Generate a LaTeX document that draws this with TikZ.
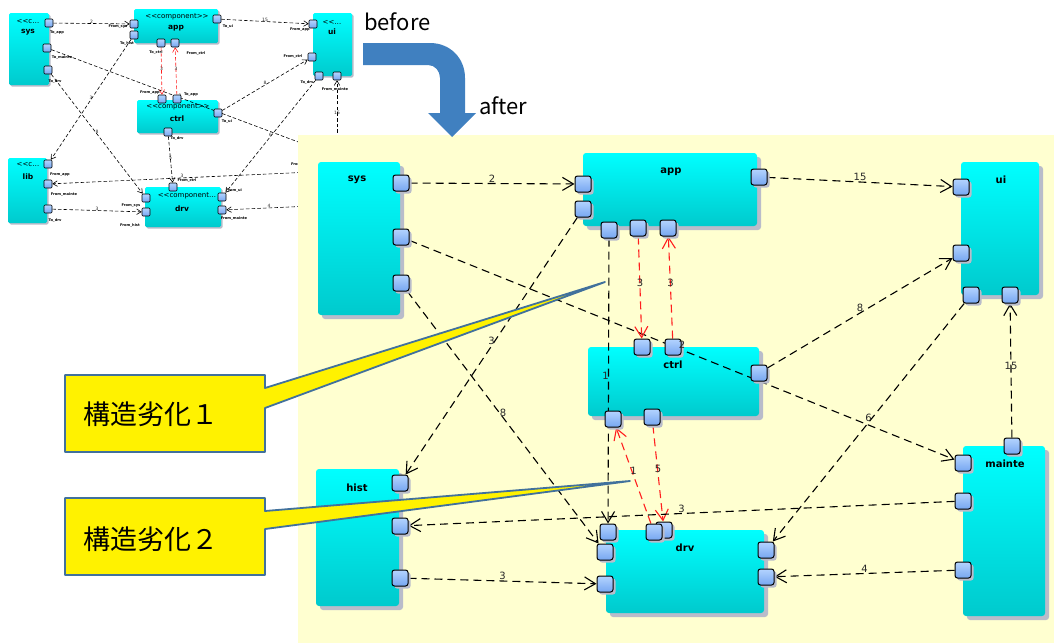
\documentclass[tikz,border=0pt]{standalone}
\usepackage{fontspec}
\setmainfont{DejaVu Sans}
\newfontfamily\jpfont{Noto Sans CJK JP}
\usetikzlibrary{arrows.meta,shadows}
\definecolor{panelbg}{RGB}{255,255,208}
\definecolor{cyanT}{RGB}{0,255,255}
\definecolor{cyanM}{RGB}{0,242,243}
\definecolor{cyanB}{RGB}{0,202,205}
\definecolor{portT}{RGB}{180,212,255}
\definecolor{portB}{RGB}{118,166,240}
\definecolor{shadowc}{RGB}{185,188,202}
\definecolor{calloutline}{RGB}{65,113,156}
\definecolor{bigarrow}{RGB}{64,128,192}
\definecolor{lblc}{RGB}{40,40,40}
\definecolor{redline}{RGB}{255,30,30}
\pgfdeclarelayer{L0}
\pgfdeclarelayer{L1}
\pgfdeclarelayer{L2}
\pgfdeclarelayer{L3}
\pgfdeclarelayer{L4}
\pgfdeclarelayer{L5}
\pgfsetlayers{L0,L1,L2,L3,L4,L5,main}
\tikzset{
  comp/.style={rounded corners=3, top color=cyanT, middle color=cyanM, bottom color=cyanB, inner sep=0,
    drop shadow={shadow xshift=4pt, shadow yshift=-4pt, fill=shadowc, opacity=1}},
  port/.style={draw=black, line width=1pt, rounded corners=2.5, minimum size=16, inner sep=0,
    top color=portT, bottom color=portB,
    drop shadow={shadow xshift=2.5pt, shadow yshift=-2.5pt, fill=shadowc, opacity=1}},
  cname/.style={font=\bfseries\fontsize{10}{11}\selectfont},
  elbl/.style={font=\fontsize{10}{11}\selectfont, text=lblc, inner sep=1pt, midway, yshift=5pt},
  dep/.style={draw=black, line width=1.1pt, dash pattern=on 8pt off 5pt, -{Straight Barb[length=11pt,width=13pt]}},
  rdep/.style={dep, draw=redline},
  bcomp/.style={rounded corners=1.5, top color=cyanT, middle color=cyanM, bottom color=cyanB, inner sep=0,
    drop shadow={shadow xshift=1.5pt, shadow yshift=-1.5pt, fill=shadowc, opacity=1}},
  bport/.style={draw=black, line width=0.6pt, rounded corners=1, minimum size=8, inner sep=0,
    top color=portT, bottom color=portB},
  bdep/.style={draw=black, line width=0.6pt, dash pattern=on 3.5pt off 2.2pt, -{Straight Barb[length=4.5pt,width=5.5pt]}},
  bred/.style={bdep, draw=redline},
  blbl/.style={font=\fontsize{4.5}{5}\selectfont, text=lblc, midway, yshift=2pt, inner sep=0.5pt},
  bplbl/.style={font=\bfseries\fontsize{3.6}{4}\selectfont, inner sep=0},
  bhead/.style={font=\fontsize{7}{7}\selectfont},
  bname/.style={font=\bfseries\fontsize{7.5}{8}\selectfont},
  callout/.style={fill=yellow, draw=calloutline, line width=1.8pt, line join=round},
  cjk/.style={font=\jpfont\fontsize{27}{30}\selectfont, inner sep=0},
  bigtxt/.style={font=\jpfont\fontsize{22}{24}\selectfont, inner sep=0},
}
\begin{document}
\begin{tikzpicture}[x=1pt,y=-1pt]
\useasboundingbox (0,0) rectangle (1054,643);
% ---------------- BEFORE diagram ----------------
\begin{pgfonlayer}{L0}
\fill[white] (0,0) rectangle (1054,643);
\node[bcomp, minimum width=40, minimum height=72] (bsys) at (29,49) {};
\node[bcomp, minimum width=84, minimum height=34] (bapp) at (176,26) {};
\node[bcomp, minimum width=39, minimum height=63] (bui) at (332.5,44.5) {};
\node[bcomp, minimum width=81, minimum height=33] (bctrl) at (177.5,116.5) {};
\node[bcomp, minimum width=39, minimum height=65] (blib) at (27.5,190.5) {};
\node[bcomp, minimum width=76, minimum height=40] (bdrv) at (183,207) {};
\node[bhead] (bh1) at (28,22) {<{}<c…};
\node[bname] (bn1) at (28,32) {sys};
\node[bhead] (bh2) at (177,17) {<{}<component>{}>};
\node[bname] (bn2) at (176,28) {app};
\node[bhead] (bh3) at (332,22) {<{}<…};
\node[bname] (bn3) at (332,32) {ui};
\node[bhead] (bh4) at (178,107) {<{}<component>{}>};
\node[bname] (bn4) at (177,119) {ctrl};
\node[bhead] (bh5) at (28,165) {<{}<c…};
\node[bname] (bn5) at (28,177) {lib};
\node[bhead] (bh6) at (187,196) {<{}<component…};
\node[bname] (bn6) at (182,209) {drv};
\end{pgfonlayer}
\begin{pgfonlayer}{L2}
\node[bport] (bs1) at (49,23) {};
\node[bport] (bs2) at (47,48) {};
\node[bport] (bs3) at (48,70) {};
\node[bport] (ba1) at (134,24) {};
\node[bport] (ba2) at (134,35) {};
\node[bport] (ba3) at (161,43) {};
\node[bport] (ba4) at (175,43) {};
\node[bport] (ba5) at (217,19) {};
\node[bport] (bu1) at (313,24) {};
\node[bport] (bu2) at (312,57) {};
\node[bport] (bu3) at (319,76) {};
\node[bport] (bu4) at (337,76) {};
\node[bport] (bc1) at (162,99) {};
\node[bport] (bc2) at (177,99) {};
\node[bport] (bc3) at (218,113) {};
\node[bport] (bc4) at (168,132) {};
\node[bport] (bl1) at (48,164) {};
\node[bport] (bl2) at (48,184) {};
\node[bport] (bl3) at (48,209) {};
\node[bport] (bd1) at (146,198) {};
\node[bport] (bd2) at (146,212) {};
\node[bport] (bd3) at (173,187) {};
\node[bport] (bd4) at (222,197) {};
\node[bport] (bd5) at (222,210) {};
\node[bplbl] (t1) at (57,33) {To\_app};
\node[bplbl] (t2) at (62,58) {To\_mainte};
\node[bplbl] (t3) at (55,82) {To\_drv};
\node[bplbl] (t4) at (118,27) {From\_sys};
\node[bplbl] (t5) at (127,44) {To\_hist};
\node[bplbl] (t6) at (156,53) {To\_ctrl};
\node[bplbl] (t7) at (196,54) {From\_ctrl};
\node[bplbl] (t8) at (228,27) {To\_ui};
\node[bplbl] (t9) at (300,30) {From\_app};
\node[bplbl] (t10) at (293,57) {From\_ctrl};
\node[bplbl] (t11) at (307,83) {To\_drv};
\node[bplbl] (t12) at (335,90) {From\_mainte};
\node[bplbl] (t13) at (150,93) {From\_app};
\node[bplbl] (t14) at (191,95) {To\_app};
\node[bplbl] (t15) at (227,122) {To\_ui};
\node[bplbl] (t16) at (177,139) {To\_drv};
\node[bplbl] (t17) at (60,175) {From\_app};
\node[bplbl] (t18) at (64,195) {From\_mainte};
\node[bplbl] (t19) at (55,221) {To\_drv};
\node[bplbl] (t20) at (131,206) {From\_sys};
\node[bplbl] (t21) at (130,226) {From\_hist};
\node[bplbl] (t22) at (187,181) {From\_ctrl};
\node[bplbl] (t23) at (234,191) {From\_ui};
\node[bplbl] (t24) at (234,219) {From\_mainte};
\node[bplbl, anchor=west] (t25) at (291,165) {From\_sys};
\end{pgfonlayer}
\coordinate (bm1) at (309,146);
\coordinate (bm2) at (312,172);
\coordinate (bm3) at (312,206);
\coordinate (bm4) at (337,150);
\begin{pgfonlayer}{L1}
\draw[bdep] (bs1) -- (ba1) node[blbl]{2};
\draw[bdep] (ba5) -- (bu1) node[blbl]{15};
\draw[bred] (ba3) -- (bc1) node[blbl]{3};
\draw[bred] (bc2) -- (ba4) node[blbl]{3};
\draw[bdep] (bs2) -- (bm1) node[blbl]{2};
\draw[bdep] (bc3) -- (bu2) node[blbl]{8};
\draw[bdep] (bu3) -- (bd4) node[blbl]{6};
\draw[bdep] (bs3) -- (bd1) node[blbl]{8};
\draw[bdep] (ba2) -- (bl1) node[blbl]{3};
\draw[bdep] (bc4) -- (bd3) node[blbl]{5};
\draw[bdep] (bl3) -- (bd2) node[blbl]{3};
\draw[bdep] (bm2) -- (bl2) node[blbl]{3};
\draw[bdep] (bm3) -- (bd5) node[blbl]{4};
\draw[bdep] (bm4) -- (bu4) node[blbl]{15};
\end{pgfonlayer}
% ---------------- panel ----------------
\begin{pgfonlayer}{L3}
\fill[panelbg] (298,135) rectangle (1054,643);
\end{pgfonlayer}
% ---------------- AFTER diagram ----------------
\begin{pgfonlayer}{L4}
\node[comp, minimum width=82, minimum height=153] (sys) at (359,238.5) {};
\node[comp, minimum width=174, minimum height=73] (app) at (670,189.5) {};
\node[comp, minimum width=78, minimum height=133] (ui) at (1000,228.5) {};
\node[comp, minimum width=171, minimum height=69] (ctrl) at (673.5,381.5) {};
\node[comp, minimum width=82, minimum height=170] (mainte) at (1004,531) {};
\node[comp, minimum width=83, minimum height=137] (hist) at (357.5,537.5) {};
\node[comp, minimum width=158, minimum height=83] (drv) at (685,571.5) {};
\node[cname] (n1) at (357,180) {sys};
\node[cname] (n2) at (671,172) {app};
\node[cname] (n3) at (1001,180) {ui};
\node[cname] (n4) at (673,365) {ctrl};
\node[cname] (n5) at (1005,464) {mainte};
\node[cname] (n6) at (357,488) {hist};
\node[cname] (n7) at (685,548) {drv};
\end{pgfonlayer}
% ports (main layer, above connectors)
\node[port] (sA) at (401,183) {};
\node[port] (sB) at (401,237) {};
\node[port] (sC) at (401,283) {};
\node[port] (aL1) at (583,184) {};
\node[port] (aL2) at (583,209) {};
\node[port] (aB1) at (609,230) {};
\node[port] (aB2) at (638,228) {};
\node[port] (aB3) at (668,228) {};
\node[port] (aR) at (759,177) {};
\node[port] (uL1) at (961,187) {};
\node[port] (uL2) at (961,253) {};
\node[port] (uB1) at (971,295) {};
\node[port] (uB2) at (1010,295) {};
\node[port] (cT1) at (642,347) {};
\node[port] (cT2) at (673,347) {};
\node[port] (cR) at (759,373) {};
\node[port] (cB1) at (613,419) {};
\node[port] (cB2) at (652,417) {};
\node[port] (mT) at (1012,446) {};
\node[port] (mL1) at (963,463) {};
\node[port] (mL2) at (963,501) {};
\node[port] (mL3) at (963,570) {};
\node[port] (hR1) at (400,483) {};
\node[port] (hR2) at (400,526) {};
\node[port] (hR3) at (400,578) {};
\node[port] (dT1) at (608,532) {};
\node[port] (dL1) at (605,552) {};
\node[port] (dL2) at (605,584) {};
\node[port] (dT2) at (664,530) {};
\node[port] (dT3) at (654,532) {};
\node[port] (dR1) at (766,550) {};
\node[port] (dR2) at (766,577) {};
\begin{pgfonlayer}{L5}
\draw[dep] (sA) -- (aL1);
\draw[dep] (aR) -- (uL1);
\draw[dep] (sB) -- (mL1);
\draw[dep] (sC) -- (dL1);
\draw[dep] (aL2) -- (hR1);
\draw[dep] (aB1) -- (dT1);
\draw[rdep] (aB2) -- (cT1);
\draw[rdep] (cT2) -- (aB3);
\draw[rdep] (dT3) -- (cB1);
\draw[rdep] (cB2) -- (dT2);
\draw[dep] (cR) -- (uL2);
\draw[dep] (uB1) -- (dR1);
\draw[dep] (mT) -- (uB2);
\draw[dep] (mL2) -- (hR2);
\draw[dep] (hR3) -- (dL2);
\draw[dep] (mL3) -- (dR2);
\end{pgfonlayer}
% connector labels, above the ports
\path (sA) -- (aL1) node[elbl]{2};
\path (aR) -- (uL1) node[elbl]{15};
\path (sB) -- (mL1) node[elbl]{2};
\path (sC) -- (dL1) node[elbl]{8};
\path (aL2) -- (hR1) node[elbl]{3};
\path (aB1) -- (dT1) node[elbl, xshift=-3pt]{1};
\path (aB2) -- (cT1) node[elbl]{3};
\path (cT2) -- (aB3) node[elbl]{3};
\path (dT3) -- (cB1) node[elbl]{1};
\path (cB2) -- (dT2) node[elbl]{5};
\path (cR) -- (uL2) node[elbl]{8};
\path (uB1) -- (dR1) node[elbl]{6};
\path (mT) -- (uB2) node[elbl]{15};
\path (mL2) -- (hR2) node[elbl]{3};
\path (hR3) -- (dL2) node[elbl]{3};
\path (mL3) -- (dR2) node[elbl]{4};
% ---------------- big arrow and titles ----------------
\fill[bigarrow] (363,43) -- (430,43) .. controls (450,43) and (465,58) .. (465,78)
  -- (465,113) -- (476,113) -- (452,137) -- (428,113) -- (440,113) -- (440,78)
  .. controls (440,71) and (435,65) .. (428,65) -- (363,65) -- cycle;
\node[bigtxt, anchor=base west] (before) at (364,30) {before};
\node[bigtxt, anchor=base west] (after) at (479,114) {after};
% ---------------- callouts ----------------
\draw[callout] (65,375) -- (265,375) -- (265,388) -- (605,282) -- (265,408) -- (265,452) -- (65,452) -- cycle;
\node[cjk, anchor=west] (c1) at (83,414) {構造劣化１};
\draw[callout] (65,498) -- (265,498) -- (265,511) -- (630,481) -- (265,529) -- (265,575) -- (65,575) -- cycle;
\node[cjk, anchor=west] (c2) at (83,539) {構造劣化２};
\end{tikzpicture}
\end{document}
